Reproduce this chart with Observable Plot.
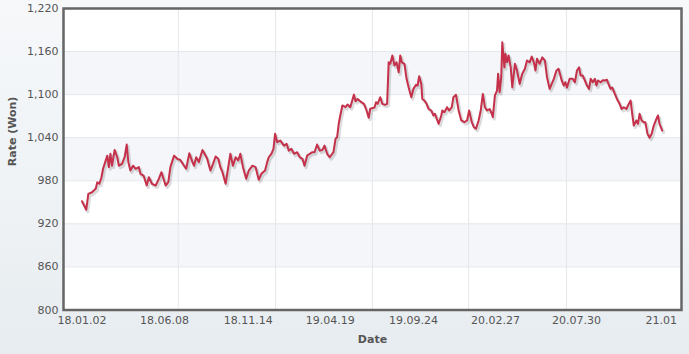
<!DOCTYPE html>
<html>
<head>
<meta charset="utf-8">
<script src="https://cdn.jsdelivr.net/npm/d3@7"></script>
<script src="https://cdn.jsdelivr.net/npm/@observablehq/plot@0.6"></script>
<style>
  html, body { margin: 0; padding: 0; }
  body {
    width: 689px; height: 354px; overflow: hidden;
    background: linear-gradient(180deg, #f6f8fa 0%, #eef2f5 60%, #e7ecf0 100%);
    font-family: "DejaVu Sans", Verdana, sans-serif;
  }
</style>
</head>
<body>
<div id="chart"></div>
<script>
// ---- data ----
const startDate = "2018-01-02";
// days after startDate
const dayOffsets = [
  0, 8, 12, 19, 26, 29, 33, 37, 40, 43, 48, 51, 54, 57, 62, 67, 70, 76, 81, 85,
  88, 92, 97, 102, 108, 111, 117, 123, 127, 133, 140, 146, 151, 154, 159, 164, 168, 175, 181,
  187, 194, 198, 204, 210, 213, 217, 222, 229, 233, 238, 244, 249, 254, 259, 263, 267, 273,
  278, 282, 287, 292, 297, 301, 306, 312, 317, 324, 330, 336, 341, 348, 352, 355, 360, 364,
  367, 371,
  377, 384, 389, 393, 398, 403, 409, 414, 419, 423, 428, 433, 438, 442, 447, 452, 457, 461,
  466, 471, 478, 482, 485, 488, 491, 495, 501, 505, 510, 517, 520, 524, 531, 536, 541, 545, 548,
  556, 559, 562, 567, 571, 576, 580, 583, 586, 590, 594, 598, 602, 605, 608, 613, 617, 621,
  626, 630, 635, 638, 641, 645, 647, 651, 655, 659, 664, 668, 671, 678, 683, 685, 689, 694,
  698, 703, 706, 711, 716, 721, 727, 732, 736, 741,
  745, 749, 754, 758, 762, 766, 770, 775, 779, 781, 785, 789, 791, 794, 797, 799, 803, 805,
  808, 811, 815, 818, 823, 827, 832, 837, 842, 846, 851, 855, 859, 862, 865, 870, 875, 880,
  884, 889, 893, 897, 902, 906, 912, 916, 919, 922, 927,
  933, 937, 941, 945, 948, 952, 956, 960, 964, 967, 971, 975, 978, 981, 986, 990, 994, 998,
  1002, 1005, 1008, 1013, 1017, 1022, 1026, 1030, 1035, 1038, 1043, 1046, 1049, 1054, 1057,
  1060, 1064, 1068, 1071, 1075, 1079, 1083, 1087, 1092, 1095, 1098, 1103
];
const rates = [
  951.5, 939.6, 961.8, 964, 968.8, 978, 975.8, 985, 996.7, 1003.6, 1015, 999, 1017.6, 1001, 1023, 1012.8, 1001, 1003.6, 1012.8, 1030.5,
  1006, 994.3, 1001, 996.7, 999, 989.7, 987.3, 973.4, 985, 975.8, 973.4, 982.7, 992, 985, 973.4, 978, 999, 1015, 1010.6,
  1009, 1001, 996.7, 1018.4, 1006, 1001, 1012.8, 1006, 1023, 1017.6, 1010.6, 994.3, 1003.6, 1013.8, 1010.6, 999, 992, 975.8,
  999, 1017.6, 1001, 1012.8, 1008.3, 1017.6, 999, 982.7, 994.3, 1001, 999, 981.3, 989.7, 994.3, 1006, 1012.8, 1017.6, 1024.5,
  1045.4, 1033.7,
  1036, 1029, 1031.5, 1022, 1024.5, 1017.6, 1019.8, 1012.8, 1010.6, 1001, 1015, 1017.6, 1019.8, 1019.8, 1030.5, 1022, 1023, 1029,
  1017.6, 1012.8, 1019.8, 1038.5, 1040.7, 1059.4, 1071, 1084.9, 1082.5, 1086.3, 1082.5, 1100, 1090.8, 1094, 1089.5, 1087.2, 1077.9, 1067.7, 1080.3,
  1082, 1089.5, 1087.2, 1096.4, 1087.2, 1085.8, 1087.2, 1145, 1143, 1154.5, 1140.6, 1145, 1131, 1154.5, 1145, 1143, 1122, 1110,
  1096.4, 1108, 1113.7, 1112.7, 1125.7, 1115, 1094, 1091.8, 1087.2, 1080, 1077.9, 1071, 1073.3, 1059.4, 1071, 1077.9, 1075.5, 1082.5,
  1077.9, 1082.5, 1096.4, 1099.7, 1077.9, 1064, 1061.6, 1064, 1077.9, 1061.6,
  1054.6, 1052.4, 1064, 1077.9, 1101, 1082.5, 1077.9, 1080, 1073.3, 1068.6, 1099, 1105.7, 1129, 1103.4, 1124.3, 1173, 1138, 1156.9,
  1145, 1154.5, 1138, 1110, 1143, 1133.6, 1115, 1129, 1136, 1147.5, 1145, 1153, 1145, 1133.6, 1150, 1143, 1152, 1147.5,
  1124.3, 1108, 1115, 1122, 1133.6, 1136, 1119.7, 1112.7, 1117.3, 1110, 1122,
  1122, 1117.3, 1133.6, 1138, 1126.6, 1126.6, 1119.7, 1112.7, 1108, 1122, 1117.3, 1122, 1112.7, 1119.7, 1117.3, 1120, 1119.7, 1120.7,
  1112.7, 1108, 1110, 1101, 1094, 1087.2, 1080, 1082.5, 1080, 1084.9, 1091.8, 1073.3, 1057, 1064, 1059.4,
  1073.3, 1064, 1061.6, 1061.6, 1045.4, 1040, 1045.4, 1057, 1066.3, 1071, 1059.4, 1050
];
const xTickDates = ["2018-01-02", "2018-06-08", "2018-11-14", "2019-04-19", "2019-09-24", "2020-02-27", "2020-07-30", "2021-01-07"];
const xTickLabels = ["18.01.02", "18.06.08", "18.11.14", "19.04.19", "19.09.24", "20.02.27", "20.07.30", "21.01"];
const xGridDates = ["2018-07-04", "2019-01-05", "2019-07-08", "2020-01-07", "2020-07-11"];
const xDomain = ["2017-11-27T19:00Z", "2021-02-14T17:00Z"];
const yTicks = [800, 860, 920, 980, 1040, 1100, 1160, 1220];
const bandLow = [1100, 980, 860];
const bandHigh = [1160, 1040, 920];

// ---- build ----
const start = new Date(startDate);
const data = dayOffsets.map((d, i) => ({date: d3.utcDay.offset(start, d), rate: rates[i]}));
const tickDates = xTickDates.map(s => new Date(s));
const tickLabel = new Map(tickDates.map((d, i) => [+d, xTickLabels[i]]));
const gridDates = xGridDates.map(s => new Date(s));
const bands = bandLow.map((lo, i) => ({lo, hi: bandHigh[i]}));
const fmt = d3.format(",");

const chart = Plot.plot({
  width: 689,
  height: 354,
  marginTop: 8,
  marginBottom: 44.5,
  marginLeft: 63,
  marginRight: 8,
  style: {background: "transparent", fontFamily: "DejaVu Sans, Verdana, sans-serif", fontSize: "11px"},
  x: {type: "utc", domain: xDomain.map(s => new Date(s))},
  y: {domain: [800, 1220]},
  marks: [
    Plot.frame({fill: "white", stroke: null}),
    Plot.rect(bands, {y1: "lo", y2: "hi", fill: "#f4f6f9"}),
    Plot.gridY(yTicks, {stroke: "#e4e7eb", strokeOpacity: 1}),
    Plot.ruleX(gridDates, {stroke: "#e4e7eb"}),
    Plot.line(data, {x: "date", y: "rate", stroke: "#000", strokeOpacity: 0.14, strokeWidth: 3, dx: 1.5, dy: 2}),
    Plot.line(data, {x: "date", y: "rate", stroke: "#c5304a", strokeWidth: 2}),
    Plot.frame({stroke: "#666", strokeWidth: 2.5}),
    Plot.axisY(yTicks, {tickSize: 0, tickPadding: 5, tickFormat: fmt, fill: "#555", fontSize: 11, label: null}),
    Plot.axisX(tickDates, {tickSize: 0, tickPadding: 6, tickFormat: d => tickLabel.get(+d), fill: "#555", fontSize: 11, label: null}),
    Plot.text(["Rate (Won)"], {frameAnchor: "left", dx: -51, dy: 7, rotate: -90, fontWeight: "bold", fill: "#555", fontSize: 11}),
    Plot.text(["Date"], {frameAnchor: "bottom", dy: 32.5, fontWeight: "bold", fill: "#555", fontSize: 11})
  ]
});
document.getElementById("chart").appendChild(chart);
</script>
</body>
</html>
